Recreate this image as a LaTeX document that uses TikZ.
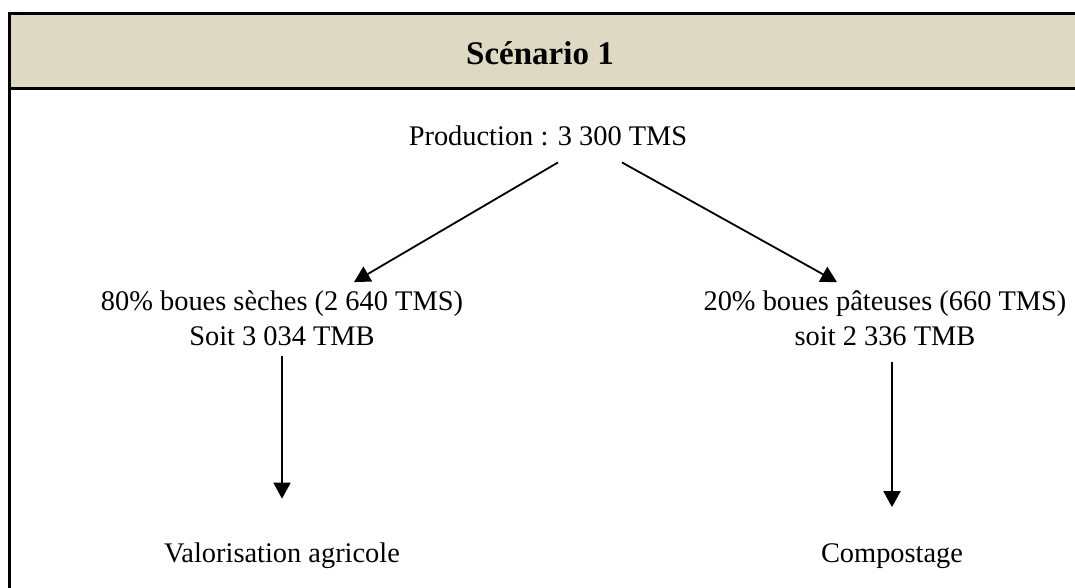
\documentclass[tikz,border=0pt]{standalone}
\usepackage{fontspec}
\setmainfont{Liberation Serif}
\usepackage{tikz}
\usetikzlibrary{arrows.meta, positioning}
\definecolor{headtan}{HTML}{DDD9C3}
\tikzstyle{label} = [text centered, align=center, inner sep=1pt, font=\fontsize{14.2}{17.5}\selectfont]
\tikzstyle{arrow} = [line width=0.9pt, -{Triangle[width=8.5pt, length=8pt]}]

\begin{document}
\begin{tikzpicture}[x=0.5pt, y=-0.5pt]
    \clip (0,0) rectangle (1075,588);
    % frame and header band
    \fill[headtan] (9,14) rectangle (1090,89);
    \draw[line width=1.5pt] (9,620) -- (9,14) -- (1090,14);
    \draw[line width=1.5pt] (9,89) -- (1090,89);

    \node (title) [label, font=\fontsize{16.5}{20}\selectfont\bfseries] at (540,53) {Scénario 1};
    \node (prod) [label] at (548,136) {Production : 3 300 TMS};

    \node (seches) [label] at (282,318) {80\% boues sèches (2 640 TMS)\\Soit 3 034 TMB};
    \node (pateuses) [label] at (885,318) {20\% boues pâteuses (660 TMS)\\soit 2 336 TMB};

    \node (agri) [label] at (282,556) {Valorisation agricole};
    \node (compost) [label] at (892,556) {Compostage};

    \draw [arrow] ([xshift=5pt, yshift=-7pt]prod.south) -- ([xshift=36pt, yshift=3pt]seches.north);
    \draw [arrow] ([xshift=37pt, yshift=-7pt]prod.south) -- ([xshift=-24pt, yshift=3pt]pateuses.north);
    \draw [arrow] ([xshift=0pt, yshift=-4pt]seches.south) -- ([yshift=21pt]agri.north);
    \draw [arrow] ([xshift=3.5pt, yshift=-7pt]pateuses.south) -- ([yshift=17pt]compost.north);
  \end{tikzpicture}
\end{document}
